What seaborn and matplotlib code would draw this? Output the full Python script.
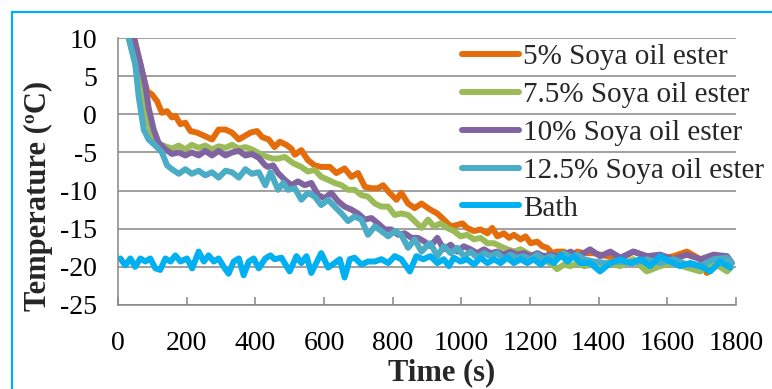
import matplotlib
matplotlib.use("Agg")
import matplotlib.pyplot as plt
import seaborn as sns
import pandas as pd
from matplotlib.lines import Line2D

# ---------------- data ----------------
t_5 = [0, 20, 46, 65, 85, 99, 114, 128, 143, 157,
       167, 182, 196, 211, 230, 250, 274, 293, 313, 332,
       352, 371, 386, 405, 420, 439, 456, 471, 490, 505,
       515, 534, 553, 573, 592, 617, 636, 660, 680, 699,
       719, 738, 757, 772, 791, 811, 825, 845, 864, 884,
       903, 910, 930, 949, 969, 988, 1003, 1017, 1037, 1056,
       1076, 1090, 1105, 1124, 1139, 1153, 1173, 1187, 1202, 1221,
       1236, 1250, 1265, 1279, 1299, 1318, 1338, 1357, 1385, 1424,
       1463, 1501, 1540, 1579, 1618, 1657, 1696, 1715, 1754, 1783]
T_5 = [22, 16, 10.3, 6.5, 3.0, 2.6, 1.7, 0.2, 0.4, -0.4,
       -0.2, -1.3, -1.1, -2.2, -2.4, -2.8, -3.3, -2.0, -2.0, -2.4,
       -3.3, -2.8, -2.4, -2.2, -3.0, -3.3, -4.3, -3.6, -4.0, -4.5,
       -5.3, -4.7, -6.0, -6.7, -6.9, -6.9, -7.7, -7.1, -8.2, -7.7,
       -9.5, -9.7, -9.7, -9.3, -10.3, -11.2, -10.3, -11.7, -12.3, -11.7,
       -12.3, -12.5, -13.0, -13.8, -14.7, -14.5, -14.3, -14.9, -15.3, -15.1,
       -15.6, -14.9, -16.0, -15.6, -16.2, -15.8, -16.4, -16.0, -16.9, -16.7,
       -17.3, -17.5, -18.2, -18.0, -18.0, -18.6, -18.0, -18.2, -18.2, -18.6,
       -19.0, -18.0, -18.6, -19.0, -18.6, -18.0, -19.0, -20.8, -19.5, -19.9]

t_75 = [0, 20, 31, 45, 60, 80, 99, 118, 138, 157,
        177, 196, 215, 235, 254, 274, 293, 313, 332, 352,
        371, 390, 410, 429, 449, 466, 486, 510, 534, 553,
        573, 592, 612, 631, 651, 670, 689, 709, 728, 748,
        767, 787, 806, 825, 845, 864, 884, 903, 920, 940,
        959, 978, 998, 1017, 1037, 1056, 1076, 1095, 1114, 1134,
        1153, 1173, 1192, 1211, 1231, 1250, 1265, 1279, 1299, 1318,
        1338, 1357, 1385, 1424, 1463, 1501, 1540, 1579, 1618, 1657,
        1696, 1735, 1774, 1785]
T_75 = [20, 14, 10, 7.5, 4.6, 0.1, -2.8, -3.9, -4.2, -4.5,
        -4.1, -4.6, -4.0, -4.4, -4.1, -4.6, -4.2, -4.4, -4.0, -4.5,
        -4.3, -4.6, -5.1, -5.5, -5.8, -5.8, -5.6, -6.4, -6.9, -7.5,
        -7.3, -8.2, -8.6, -9.0, -9.3, -9.9, -9.9, -10.6, -10.8, -11.7,
        -12.1, -12.1, -13.2, -13.0, -13.2, -14.0, -14.9, -13.8, -14.7, -14.3,
        -14.9, -15.3, -16.0, -15.8, -16.4, -16.2, -16.9, -16.9, -17.3, -17.7,
        -18.0, -17.7, -18.2, -18.6, -19.0, -19.3, -19.7, -20.3, -19.7, -19.9,
        -19.5, -19.9, -19.7, -19.5, -19.9, -19.0, -20.6, -19.9, -19.5, -20.1,
        -20.6, -19.5, -20.6, -20.1]

t_10 = [0, 20, 46, 65, 80, 89, 104, 118, 138, 157,
        177, 196, 215, 235, 254, 274, 293, 313, 332, 352,
        371, 390, 410, 429, 437, 452, 466, 486, 505, 524,
        544, 563, 583, 602, 621, 641, 660, 680, 699, 719,
        738, 757, 777, 796, 816, 835, 855, 874, 893, 910,
        930, 949, 969, 988, 1007, 1027, 1046, 1066, 1085, 1105,
        1124, 1143, 1163, 1182, 1202, 1221, 1240, 1260, 1279, 1299,
        1318, 1338, 1357, 1375, 1404, 1434, 1463, 1501, 1540, 1579,
        1618, 1657, 1696, 1735, 1774, 1788]
T_10 = [22, 16, 10, 6.7, 3.7, 0.9, -2.0, -3.7, -4.6, -5.2,
        -5.0, -5.4, -5.0, -5.4, -4.8, -5.4, -4.8, -5.4, -5.0, -4.8,
        -5.4, -5.2, -5.7, -6.7, -6.9, -6.7, -7.7, -8.6, -9.3, -8.8,
        -9.3, -9.0, -10.6, -11.0, -10.3, -11.4, -12.1, -12.5, -13.0, -13.8,
        -13.6, -14.3, -15.1, -15.1, -15.8, -15.6, -16.2, -16.2, -16.7, -17.3,
        -16.2, -17.7, -17.1, -18.0, -17.3, -17.7, -18.2, -17.7, -18.2, -18.0,
        -18.4, -18.0, -18.4, -18.2, -18.6, -18.2, -18.6, -18.4, -18.6, -18.4,
        -18.0, -18.6, -18.2, -17.7, -18.6, -18.0, -18.8, -18.0, -18.6, -18.4,
        -19.0, -18.4, -19.0, -18.4, -18.6, -19.5]

t_125 = [0, 15, 31, 50, 60, 75, 89, 109, 128, 143,
         157, 177, 196, 215, 235, 254, 274, 293, 313, 332,
         352, 371, 390, 410, 429, 444, 452, 466, 481, 495,
         515, 534, 553, 573, 592, 612, 631, 651, 670, 689,
         709, 728, 748, 767, 787, 806, 825, 845, 864, 884,
         903, 910, 930, 949, 969, 988, 1007, 1027, 1046, 1066,
         1085, 1105, 1124, 1143, 1163, 1182, 1202, 1221, 1240, 1260,
         1279, 1299, 1318, 1338, 1357, 1385, 1424, 1463, 1501, 1540,
         1579, 1618, 1657, 1696, 1735, 1774, 1788]
T_125 = [20, 15, 10, 6.7, 2.4, -2.0, -3.3, -4.1, -5.0, -6.7,
         -7.2, -7.8, -7.2, -7.8, -7.4, -8.0, -7.6, -8.3, -7.4, -7.6,
         -8.3, -7.2, -7.8, -7.6, -9.3, -7.6, -8.4, -9.9, -9.0, -9.9,
         -9.7, -11.2, -10.3, -10.8, -11.9, -11.2, -12.1, -13.0, -14.0, -13.4,
         -13.8, -15.8, -14.7, -15.3, -16.0, -15.3, -15.8, -17.5, -16.4, -18.0,
         -17.1, -16.9, -18.6, -17.3, -18.2, -17.5, -18.6, -18.0, -18.8, -18.2,
         -18.6, -18.2, -19.0, -18.4, -18.8, -18.6, -19.0, -18.4, -19.0, -18.6,
         -19.0, -18.2, -18.8, -18.4, -19.0, -19.3, -19.5, -19.3, -19.5, -19.0,
         -19.5, -19.0, -19.7, -19.9, -19.0, -18.8, -19.5]

t_bath = [7, 21, 36, 50, 65, 80, 94, 109, 123, 138,
          153, 167, 182, 201, 216, 235, 250, 264, 279, 293,
          308, 322, 337, 352, 366, 381, 395, 410, 429, 444,
          456, 476, 500, 520, 534, 549, 563, 583, 592, 612,
          631, 646, 660, 675, 689, 709, 728, 748, 767, 787,
          806, 825, 850, 869, 889, 910, 930, 949, 964, 978,
          998, 1017, 1037, 1056, 1076, 1095, 1114, 1134, 1153, 1173,
          1192, 1211, 1231, 1250, 1270, 1289, 1309, 1328, 1347, 1375,
          1404, 1434, 1463, 1492, 1521, 1550, 1579, 1608, 1637, 1667,
          1696, 1725, 1754, 1783]
T_bath = [-18.9, -19.8, -18.9, -20.0, -18.9, -19.3, -18.9, -20.2, -20.4, -18.9,
          -19.3, -18.5, -19.3, -18.9, -20.2, -18.0, -19.3, -18.5, -19.3, -18.9,
          -20.0, -20.9, -19.3, -18.9, -21.1, -19.3, -18.9, -20.2, -18.9, -18.5,
          -19.0, -18.8, -20.6, -18.6, -19.5, -18.6, -20.8, -19.0, -18.2, -20.1,
          -19.5, -19.0, -21.4, -19.0, -18.8, -19.7, -19.3, -19.3, -19.0, -19.5,
          -18.6, -19.0, -20.6, -18.6, -19.0, -18.6, -19.5, -19.0, -19.9, -18.8,
          -19.3, -19.0, -19.7, -18.8, -19.5, -19.0, -19.5, -18.8, -19.5, -19.0,
          -19.5, -19.0, -19.7, -19.0, -19.5, -18.4, -19.3, -18.6, -19.5, -19.5,
          -20.6, -19.5, -19.0, -19.5, -19.0, -19.9, -18.6, -19.3, -19.9, -19.5,
          -19.9, -20.6, -19.3, -20.1]

series_names = ["5% Soya oil ester", "7.5% Soya oil ester", "10% Soya oil ester",
                "12.5% Soya oil ester", "Bath"]
series_t = [t_5, t_75, t_10, t_125, t_bath]
series_T = [T_5, T_75, T_10, T_125, T_bath]
colors = ["#E46C0A", "#9BBB59", "#8064A2", "#4BACC6", "#00B0F0"]

x_ticks = [0, 200, 400, 600, 800, 1000, 1200, 1400, 1600, 1800]
y_ticks = [10, 5, 0, -5, -10, -15, -20, -25]
y_tick_labels = ["10", "5", "0", "-5", "-10", "-15", "-20", "-25"]

# ---------------- style ----------------
sns.set_theme(style="white")
plt.rcParams["font.family"] = ["Liberation Serif", "DejaVu Serif"]

W, H = 772, 389
fig = plt.figure(figsize=(W / 100, H / 100), dpi=100)
fig.patch.set_facecolor("white")

L, R, T, B = 118, 736, 38, 305
ax = fig.add_axes([L / W, 1 - B / H, (R - L) / W, (B - T) / H])
ax.set_facecolor("white")

grid_c = "#868686"
LW = 4.3

frames = []
for name, tt, TT in zip(series_names, series_t, series_T):
    frames.append(pd.DataFrame({"Time": tt, "Temp": TT, "Series": name}))
df = pd.concat(frames, ignore_index=True)

for name, col in zip(series_names, colors):
    sub = df[df["Series"] == name]
    sns.lineplot(data=sub, x="Time", y="Temp", ax=ax, color=col, lw=LW,
                 sort=False, estimator=None, label=name,
                 solid_joinstyle="round", solid_capstyle="round")

ax.set_xlim(0, 1800)
ax.set_ylim(-25, 10)
ax.set_xticks(x_ticks)
ax.set_xticklabels([str(v) for v in x_ticks])
ax.set_yticks(y_ticks)
ax.set_yticklabels(y_tick_labels)
ax.set_xlabel("")
ax.set_ylabel("")

ax.yaxis.grid(True, color=grid_c, lw=1.1)
ax.xaxis.grid(False)
ax.set_axisbelow(True)
for s in ["top", "right"]:
    ax.spines[s].set_visible(False)
for s in ["left", "bottom"]:
    ax.spines[s].set_color(grid_c)
    ax.spines[s].set_linewidth(1.1)

ax.tick_params(axis="x", direction="in", length=6, width=1.1, color=grid_c,
               labelsize=20, pad=19, labelcolor="black", bottom=True)
ax.tick_params(axis="y", length=0, labelsize=20, pad=15, labelcolor="black")

# legend
leg = ax.legend(loc="upper left", bbox_to_anchor=(462 / W, 1 - 44 / H),
                bbox_transform=fig.transFigure, frameon=False,
                fontsize=21, handlelength=1.95, handletextpad=0.15,
                labelspacing=0.39, borderpad=0, borderaxespad=0)
for h in leg.get_lines():
    h.set_linewidth(LW)
    h.set_solid_capstyle("round")

# axis titles
fig.text(442 / W, 1 - 373 / H, "Time (s)", ha="center", va="center",
         fontsize=22, fontweight="bold")
fig.text(38 / W, 1 - 196 / H, "Temperature (ºC)", ha="center", va="center",
         rotation=90, fontsize=22, fontweight="bold")

# light-blue chart border (left and top edges)
bc = "#00B0F0"
fig.add_artist(Line2D([12.5 / W, 12.5 / W], [0, 1 - 11.5 / H], transform=fig.transFigure,
                      color=bc, lw=1.6))
fig.add_artist(Line2D([12.5 / W, 1], [1 - 11.5 / H, 1 - 11.5 / H], transform=fig.transFigure,
                      color=bc, lw=1.6))

fig.savefig("out.png", dpi=100, facecolor="white")
